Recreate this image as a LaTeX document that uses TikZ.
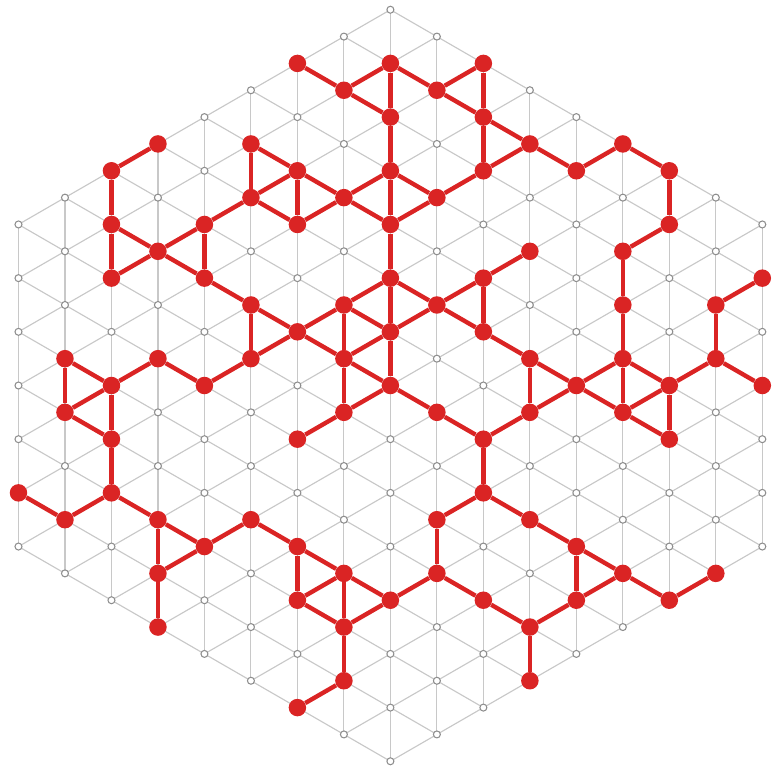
\documentclass[tikz,border=0pt]{standalone}
\usepackage{tikz}
\definecolor{latgray}{HTML}{C8C8C8}
\definecolor{dotgray}{HTML}{8E8E8E}
\definecolor{pathred}{HTML}{DA2424}

\begin{document}
\begin{tikzpicture}[x=0.9298cm,y=0.5368cm,
    latline/.style={latgray, line width=0.65pt},
    latdot/.style={dotgray, fill=white, line width=0.6pt},
    reddot/.style={circle, fill=pathred, inner sep=0pt, minimum size=0.35cm},
    redline/.style={pathred, line width=2.5pt}]
    \useasboundingbox (-7.808cm,-7.61cm) rectangle (7.832cm,7.71cm);

    % grey lattice: columns
    \foreach \i in {-8,...,8} {
        \pgfmathtruncatemacro{\m}{14-abs(\i)}
        \pgfmathtruncatemacro{\mm}{-\m}
        \draw[latline] (\i,\mm) -- (\i,\m);
    }
    % grey lattice: slanted lines (and their mirror images)
    \foreach \c in {-14,-12,...,14} {
        \pgfmathtruncatemacro{\lo}{max(-8,(\c-14)/2)}
        \pgfmathtruncatemacro{\hi}{min(8,(\c+14)/2)}
        \pgfmathtruncatemacro{\jlo}{\c-\lo}
        \pgfmathtruncatemacro{\jhi}{\c-\hi}
        \pgfmathtruncatemacro{\nlo}{-\lo}
        \pgfmathtruncatemacro{\nhi}{-\hi}
        \draw[latline] (\lo,\jlo) -- (\hi,\jhi);
        \draw[latline] (\nlo,\jlo) -- (\nhi,\jhi);
    }
    % grey lattice points
    \foreach \i in {-8,...,8} {
        \pgfmathtruncatemacro{\m}{14-abs(\i)}
        \pgfmathtruncatemacro{\a}{-\m}
        \pgfmathtruncatemacro{\b}{2-\m}
        \foreach \j in {\a,\b,...,\m}
            \filldraw[latdot] (\i,\j) circle (0.07cm);
    }

    % red sites
    \foreach \i/\j in {-2/12,0/12,2/12,-1/11,1/11,0/10,2/10,
        -5/9,-3/9,3/9,5/9,-6/8,-2/8,0/8,2/8,4/8,6/8,-3/7,-1/7,1/7,
        -6/6,-4/6,-2/6,0/6,6/6,-5/5,3/5,5/5,-6/4,-4/4,0/4,2/4,8/4,
        -3/3,-1/3,1/3,5/3,7/3,-2/2,0/2,2/2,
        -7/1,-5/1,-3/1,-1/1,3/1,5/1,7/1,-6/0,-4/0,0/0,4/0,6/0,8/0,
        -7/-1,-1/-1,1/-1,3/-1,5/-1,-6/-2,-2/-2,2/-2,6/-2,
        -8/-4,-6/-4,2/-4,-7/-5,-5/-5,-3/-5,1/-5,3/-5,-4/-6,-2/-6,4/-6,
        -5/-7,-1/-7,1/-7,5/-7,7/-7,-2/-8,0/-8,2/-8,4/-8,6/-8,
        -5/-9,-1/-9,3/-9,-1/-11,3/-11,-2/-12}
        \node[reddot] (v\i x\j) at (\i,\j) {};

    % red bonds
    \foreach \a/\b in {-2x12/-1x11,-1x11/0x12,-1x11/0x10,0x12/0x10,0x12/1x11,
        1x11/2x12,1x11/2x10,2x12/2x10,2x10/3x9,2x10/2x8,3x9/2x8,3x9/4x8,
        4x8/5x9,5x9/6x8,6x8/6x6,6x6/5x5,5x5/5x3,5x3/5x1,
        0x10/0x8,0x8/-1x7,0x8/1x7,0x8/0x6,-1x7/0x6,1x7/0x6,1x7/2x8,
        -2x8/-1x7,-3x9/-2x8,-3x9/-3x7,-2x8/-3x7,-2x8/-2x6,-3x7/-2x6,
        -2x6/-1x7,-3x7/-4x6,
        -5x9/-6x8,-6x8/-6x6,-6x6/-5x5,-6x6/-6x4,-6x4/-5x5,-5x5/-4x6,
        -4x6/-4x4,-5x5/-4x4,-4x4/-3x3,-3x3/-3x1,-3x3/-2x2,-3x1/-2x2,
        -3x1/-4x0,-4x0/-5x1,-5x1/-6x0,-7x1/-6x0,-7x1/-7x-1,-6x0/-7x-1,
        -6x0/-6x-2,-7x-1/-6x-2,-6x-2/-6x-4,
        -8x-4/-7x-5,-7x-5/-6x-4,-6x-4/-5x-5,-5x-5/-4x-6,-5x-5/-5x-7,
        -5x-7/-4x-6,-5x-7/-5x-9,-4x-6/-3x-5,-3x-5/-2x-6,-2x-6/-1x-7,
        -2x-6/-2x-8,-2x-8/-1x-7,-1x-7/-1x-9,-2x-8/-1x-9,-1x-9/0x-8,
        -1x-7/0x-8,-1x-9/-1x-11,-1x-11/-2x-12,
        0x-8/1x-7,1x-7/2x-8,1x-7/1x-5,1x-5/2x-4,2x-4/3x-5,2x-4/2x-2,
        3x-5/4x-6,4x-6/5x-7,4x-6/4x-8,4x-8/5x-7,4x-8/3x-9,2x-8/3x-9,
        3x-9/3x-11,5x-7/6x-8,6x-8/7x-7,
        0x6/0x4,0x4/-1x3,0x4/1x3,0x4/0x2,-1x3/-2x2,-1x3/-1x1,-1x3/0x2,
        -2x2/-1x1,-1x1/0x2,-1x1/-1x-1,-1x1/0x0,0x2/0x0,0x2/1x3,
        1x3/2x4,2x4/3x5,2x4/2x2,1x3/2x2,2x2/3x1,
        0x0/-1x-1,-1x-1/-2x-2,0x0/1x-1,1x-1/2x-2,2x-2/3x-1,2x-2/2x-4,
        3x1/4x0,3x1/3x-1,3x-1/4x0,4x0/5x1,4x0/5x-1,5x1/6x0,5x1/5x-1,
        5x-1/6x0,5x-1/6x-2,6x0/6x-2,6x0/7x1,7x1/8x0,7x1/7x3,7x3/8x4}
        \draw[redline] (v\a) -- (v\b);
\end{tikzpicture}
\end{document}
